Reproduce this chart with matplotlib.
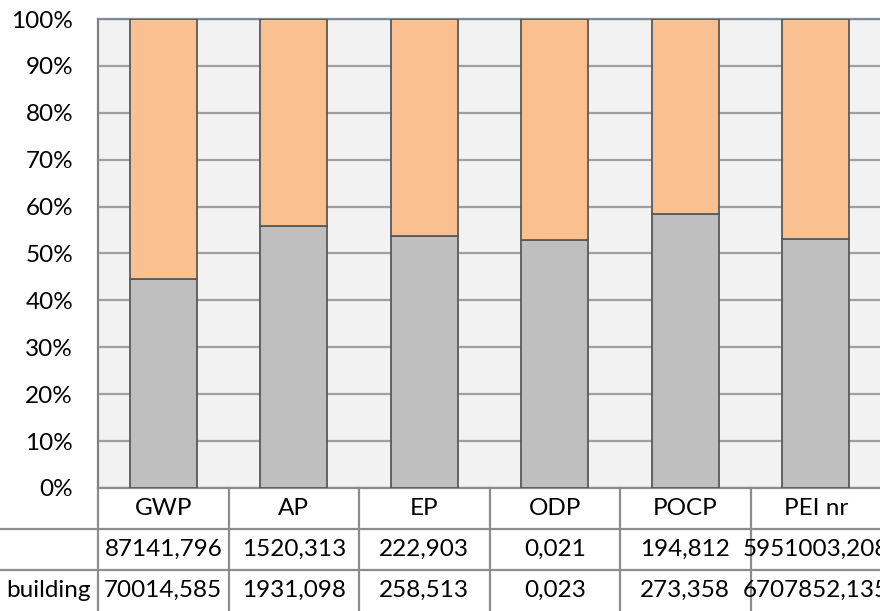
import matplotlib.pyplot as plt
import numpy as np

kategorier = ["GWP", "AP", "EP", "ODP", "POCP", "PEI nr"]
rad_navn = ["", "building"]
serie_1 = [87141.796, 1520.313, 222.903, 0.0208, 194.812, 5951003.208]
serie_2 = [70014.585, 1931.098, 258.513, 0.0234, 273.358, 6707852.135]
y_ticks = [0, 10, 20, 30, 40, 50, 60, 70, 80, 90, 100]

plt.rcParams['font.family'] = ['Lato', 'DejaVu Sans']
fs = 17.5

s1 = np.array(serie_1)
s2 = np.array(serie_2)
tot = s1 + s2
p2 = s2 / tot * 100  # graa (nederst)
p1 = s1 / tot * 100  # oransje (overst)

W, H = 880, 611
fig = plt.figure(figsize=(W / 100, H / 100), dpi=100)

venstre, hoyre = 98, 881
topp, bunn = 19, 488
ax = fig.add_axes([venstre / W, (H - bunn) / H, (hoyre - venstre) / W, (bunn - topp) / H])
ax.set_facecolor("#F2F2F2")

x = np.arange(len(kategorier))
ax.bar(x, p2, width=0.51, color="#BFBFBF", edgecolor="#595959", linewidth=1.3, zorder=3)
ax.bar(x, p1, bottom=p2, width=0.51, color="#FAC090", edgecolor="#595959", linewidth=1.3, zorder=3)

ax.set_xlim(-0.5, len(kategorier) - 0.5)
ax.set_ylim(0, 100)
ax.set_yticks(y_ticks, [f"{t}%" for t in y_ticks])
ax.set_xticks([])
ax.tick_params(axis="y", length=0, pad=18, labelsize=fs)
ax.yaxis.grid(True, color="#A0A0A0", linewidth=1.6, zorder=0)
ax.set_axisbelow(True)
ax.spines["right"].set_visible(False)
ax.spines["top"].set_color("#7F8A96")
ax.spines["top"].set_linewidth(1.6)
ax.spines["left"].set_color("#808080")
ax.spines["left"].set_linewidth(1.6)
ax.spines["bottom"].set_color("#8C8C8C")
ax.spines["bottom"].set_linewidth(1.6)

# datatabell under
tab = fig.add_axes([venstre / W, 0, (hoyre - venstre) / W, (H - bunn) / H])
tab.set_xlim(-0.5, len(kategorier) - 0.5)
tab.set_ylim(3, 0)
tab.axis("off")
lc = "#8C8C8C"
for k in range(len(kategorier) + 1):
    tab.plot([k - 0.5, k - 0.5], [0, 3], color=lc, lw=1.6, clip_on=False)
ext = -venstre / (hoyre - venstre)
for yy in [1, 2]:
    tab.plot([ext * 6 - 0.5, len(kategorier) - 0.5], [yy, yy], color=lc, lw=1.6, clip_on=False)

def fmt(v):
    return f"{v:.3f}".replace(".", ",")

for i, kat in enumerate(kategorier):
    tab.text(i, 0.5, kat, ha="center", va="center", fontsize=fs, clip_on=False)
    tab.text(i, 1.5, fmt(serie_1[i]), ha="center", va="center", fontsize=fs, clip_on=False)
    tab.text(i, 2.5, fmt(serie_2[i]), ha="center", va="center", fontsize=fs, clip_on=False)
for j, navn in enumerate(rad_navn):
    tab.text(-0.555, 1.5 + j, navn, ha="right", va="center", fontsize=fs, clip_on=False)

fig.savefig("out.png", dpi=100)
